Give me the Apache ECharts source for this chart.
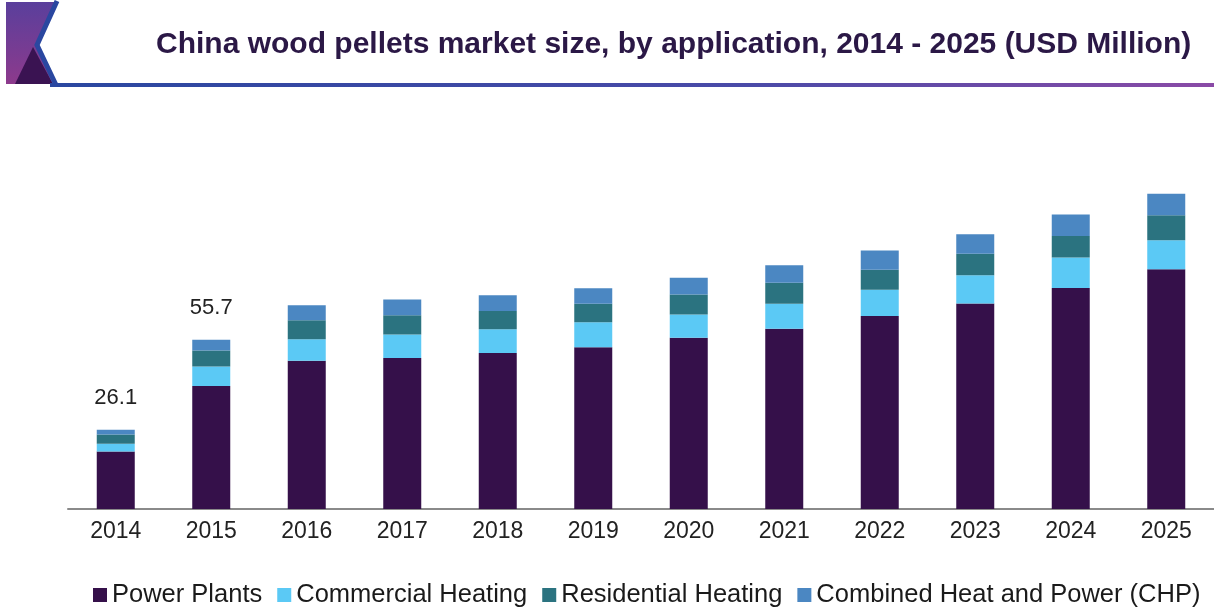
<!DOCTYPE html>
<html>
<head>
<meta charset="utf-8">
<title>China wood pellets market size</title>
<script src="https://cdn.jsdelivr.net/npm/echarts@6/dist/echarts.min.js"></script>
<style>
  html, body { margin: 0; padding: 0; background: #fff; }
  #chart { width: 1214px; height: 607px; }
</style>
</head>
<body>
<div id="chart"></div>
<script>
// years on the x axis
var years = ['2014', '2015', '2016', '2017', '2018', '2019', '2020', '2021', '2022', '2023', '2024', '2025'];
// USD Million
var powerPlants   = [18.9, 40.5, 48.8, 49.7, 51.3, 53.2, 56.3, 59.3, 63.5, 67.6, 72.7, 78.9];
var commercial    = [2.6, 6.4, 7.0, 7.7, 7.8, 8.2, 7.7, 8.2, 8.6, 9.3, 10.0, 9.5];
var residential   = [3.0, 5.2, 6.3, 6.3, 6.0, 6.1, 6.6, 6.9, 6.6, 7.1, 7.1, 8.2];
var chp           = [1.6, 3.6, 4.9, 5.2, 5.2, 5.1, 5.5, 5.8, 6.3, 6.4, 7.1, 7.1];
// totals printed above the bars (only the first two are shown)
var shownTotals   = [26.1, 55.7, null, null, null, null, null, null, null, null, null, null];

var seriesNames = ['Power Plants', 'Commercial Heating', 'Residential Heating', 'Combined Heat and Power (CHP)'];
var colors = ['#35104a', '#5bc9f5', '#2b7380', '#4b87c2'];

var myChart = echarts.init(document.getElementById('chart'), null, { renderer: 'canvas' });

function bar(name, data, color, withLabel) {
    var s = {
        name: name,
        type: 'bar',
        stack: 'total',
        barWidth: 38,
        itemStyle: { color: color },
        data: data
    };
    if (withLabel) {
        s.label = {
            show: true,
            position: 'top',
            distance: 21,
            fontFamily: 'Liberation Sans, Arial, sans-serif',
            fontSize: 22,
            color: '#222',
            formatter: function (p) {
                var t = shownTotals[p.dataIndex];
                return t == null ? '' : t.toFixed(1);
            }
        };
    }
    return s;
}

myChart.setOption({
    animation: false,
    color: colors,
    textStyle: { fontFamily: 'Liberation Sans, Arial, sans-serif' },
    graphic: [
        // header logo
        {
            type: 'polygon',
            shape: { points: [[6, 2], [57, 2], [37, 45], [53, 84], [6, 84]] },
            style: {
                fill: new echarts.graphic.LinearGradient(0, 0, 0, 1, [
                    { offset: 0, color: '#5a3f9c' },
                    { offset: 1, color: '#8d3a8c' }
                ])
            }
        },
        {
            type: 'polygon',
            shape: { points: [[15, 84], [33, 47], [53, 84]] },
            style: { fill: '#3a1352' }
        },
        {
            type: 'polyline',
            shape: { points: [[57, 1], [37, 45], [56, 85]] },
            style: { stroke: '#2a47a0', lineWidth: 5, fill: null }
        },
        {
            type: 'rect',
            shape: { x: 50, y: 83, width: 1164, height: 4 },
            style: {
                fill: new echarts.graphic.LinearGradient(0, 0, 1, 0, [
                    { offset: 0, color: '#2a47a0' },
                    { offset: 0.6, color: '#4a4aa8' },
                    { offset: 1, color: '#8a4aa6' }
                ])
            }
        },
        {
            type: 'text',
            left: 156,
            top: 30,
            style: {
                text: 'China wood pellets market size, by application, 2014 - 2025 (USD Million)',
                font: 'bold 30px "Liberation Sans", Arial, sans-serif',
                fill: '#2b1846'
            }
        }
    ],
    legend: {
        left: 88,
        top: 577,
        itemWidth: 14,
        itemHeight: 14,
        itemGap: 15,
        icon: 'rect',
        textStyle: { fontSize: 25.5, color: '#1a1a1a' },
        data: seriesNames
    },
    grid: { left: 68, top: 53, width: 1152, bottom: 98 },
    xAxis: {
        type: 'category',
        data: years,
        axisLine: { lineStyle: { color: '#8a8a8a', width: 2 } },
        axisTick: { show: false },
        axisLabel: { fontSize: 23, color: '#222', margin: 11 }
    },
    yAxis: {
        type: 'value',
        min: 0,
        max: 150,
        show: false,
        splitLine: { show: false }
    },
    series: [
        bar(seriesNames[0], powerPlants, colors[0], false),
        bar(seriesNames[1], commercial, colors[1], false),
        bar(seriesNames[2], residential, colors[2], false),
        bar(seriesNames[3], chp, colors[3], true)
    ]
});
</script>
</body>
</html>
